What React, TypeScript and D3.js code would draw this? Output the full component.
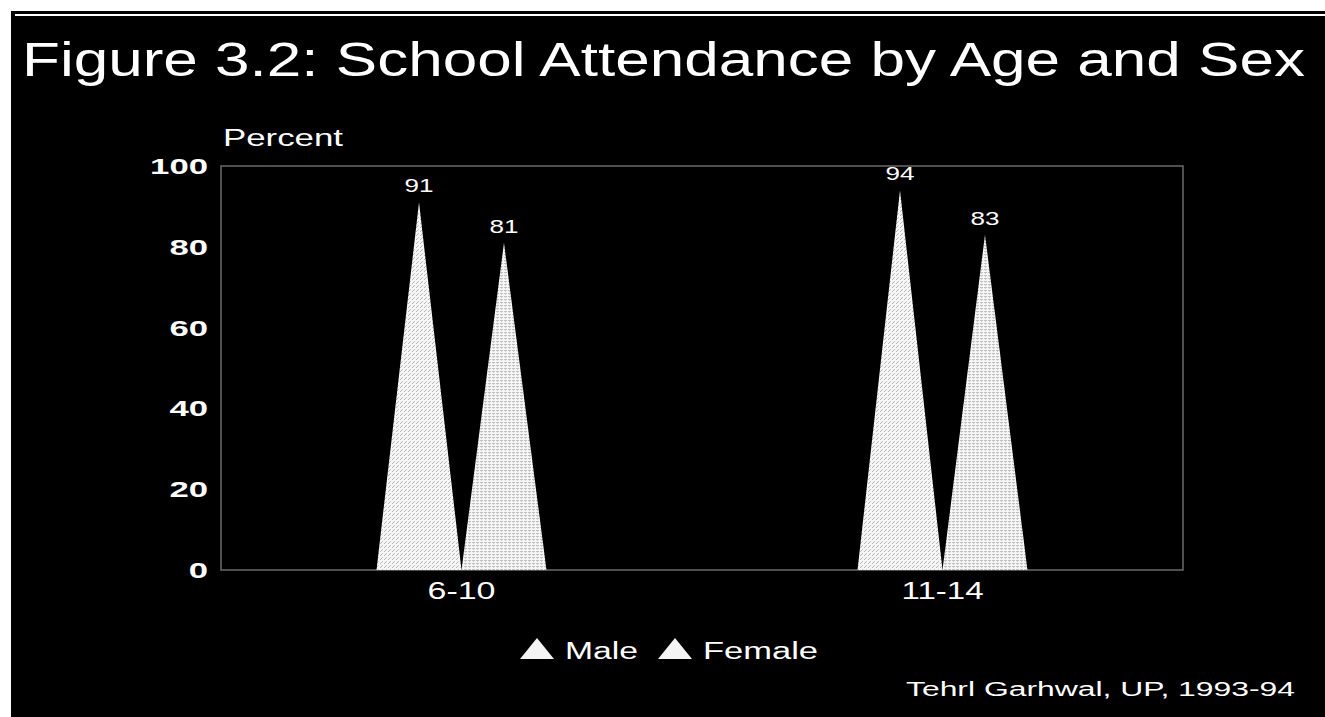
import React from "react";
import * as d3 from "d3";

// Age groups, series and values (percent attending school)
const ageGroups = ["6-10", "11-14"];
const seriesNames = ["Male", "Female"];
const maleValues = [91, 94];
const femaleValues = [81, 83];
const yTicks = [0, 20, 40, 60, 80, 100];

const W = 1325;
const H = 717;
const plot = { left: 221, top: 166, right: 1183, bottom: 570 };
const FONT = "'Liberation Sans', Arial, Helvetica, sans-serif";

export default function App() {
  const x0 = d3
    .scaleBand<string>()
    .domain(ageGroups)
    .range([plot.left, plot.right])
    .paddingInner(0)
    .paddingOuter(0);
  const x1 = d3
    .scaleBand<string>()
    .domain(seriesNames)
    .range([0, x0.bandwidth()])
    .paddingInner(0)
    .paddingOuter(1.83);
  const y = d3.scaleLinear().domain([0, 100]).range([plot.bottom, plot.top]);

  const valuesBySeries: Record<string, number[]> = {
    Male: maleValues,
    Female: femaleValues,
  };
  const fills: Record<string, string> = {
    Male: "url(#hatchMale)",
    Female: "url(#hatchFemale)",
  };

  const triangle = (cat: string, s: string, v: number) => {
    const left = (x0(cat) ?? 0) + (x1(s) ?? 0);
    const bw = x1.bandwidth();
    return d3.line()([
      [left, y(0)],
      [left + bw / 2, y(v)],
      [left + bw, y(0)],
    ]) + "Z";
  };

  const groupLabelWidth: Record<string, number> = { "6-10": 68, "11-14": 82 };

  return (
    <div style={{ position: "absolute", left: 0, top: 0 }}>
      <svg width={W} height={H} style={{ display: "block" }}>
        <defs>
          <pattern id="hatchMale" width={4} height={4} patternUnits="userSpaceOnUse">
            <rect width={4} height={4} fill="#f6f6f6" />
            <rect x={0} y={3} width={1} height={1} fill="#b4b4b4" />
            <rect x={1} y={2} width={1} height={1} fill="#b4b4b4" />
            <rect x={2} y={1} width={1} height={1} fill="#c4c4c4" />
          </pattern>
          <pattern id="hatchFemale" width={4} height={3} patternUnits="userSpaceOnUse">
            <rect width={4} height={3} fill="#f6f6f6" />
            <rect x={0} y={2} width={3} height={1} fill="#c0c0c0" />
            <rect x={1} y={0} width={1} height={1} fill="#d0d0d0" />
          </pattern>
        </defs>

        <rect x={0} y={0} width={W} height={H} fill="#ffffff" />
        <rect x={11} y={11} width={W - 11} height={H - 11} fill="#000000" />
        <rect x={15} y={14} width={W - 15} height={2} fill="#ffffff" />

        <text
          x={22}
          y={76}
          fill="#ffffff"
          fontFamily={FONT}
          fontSize={48}
          textLength={1283}
          lengthAdjust="spacingAndGlyphs"
        >
          Figure 3.2: School Attendance by Age and Sex
        </text>

        <text
          x={223}
          y={146}
          fill="#ffffff"
          fontFamily={FONT}
          fontSize={23}
          textLength={120}
          lengthAdjust="spacingAndGlyphs"
        >
          Percent
        </text>

        {/* plot frame */}
        <rect
          x={plot.left}
          y={plot.top}
          width={plot.right - plot.left}
          height={plot.bottom - plot.top}
          fill="none"
          stroke="#6a6a6a"
          strokeWidth={1.5}
        />

        {/* y axis tick labels */}
        {yTicks.map((t) => (
          <text
            key={t}
            x={208}
            y={y(t) + 8}
            textAnchor="end"
            fill="#ffffff"
            fontFamily={FONT}
            fontWeight="bold"
            fontSize={22}
            textLength={String(t).length * 19.3}
            lengthAdjust="spacingAndGlyphs"
          >
            {t}
          </text>
        ))}

        {/* triangles and value labels */}
        {ageGroups.map((cat, i) =>
          seriesNames.map((s) => {
            const v = valuesBySeries[s][i];
            const cx = (x0(cat) ?? 0) + (x1(s) ?? 0) + x1.bandwidth() / 2;
            return (
              <g key={cat + s}>
                <path d={triangle(cat, s, v)} fill={fills[s]} />
                <text
                  x={cx}
                  y={y(v) - 10}
                  textAnchor="middle"
                  fill="#ffffff"
                  fontFamily={FONT}
                  fontSize={18.5}
                  textLength={29}
                  lengthAdjust="spacingAndGlyphs"
                >
                  {v}
                </text>
              </g>
            );
          })
        )}

        {/* x axis category labels */}
        {ageGroups.map((cat) => (
          <text
            key={cat}
            x={(x0(cat) ?? 0) + x0.bandwidth() / 2}
            y={599}
            textAnchor="middle"
            fill="#ffffff"
            fontFamily={FONT}
            fontSize={23}
            textLength={groupLabelWidth[cat]}
            lengthAdjust="spacingAndGlyphs"
          >
            {cat}
          </text>
        ))}

        {/* legend */}
        {[
          { name: "Male", tx: 520, lx: 565, lw: 73 },
          { name: "Female", tx: 658, lx: 703, lw: 115 },
        ].map((d) => (
          <g key={d.name}>
            <path
              d={`M${d.tx},659L${d.tx + 17},638L${d.tx + 34},659Z`}
              fill="#f4f4f4"
            />
            <text
              x={d.lx}
              y={659}
              fill="#ffffff"
              fontFamily={FONT}
              fontSize={23.5}
              textLength={d.lw}
              lengthAdjust="spacingAndGlyphs"
            >
              {d.name}
            </text>
          </g>
        ))}

        <text
          x={1295}
          y={696}
          textAnchor="end"
          fill="#ffffff"
          fontFamily={FONT}
          fontSize={19.5}
          textLength={389}
          lengthAdjust="spacingAndGlyphs"
        >
          Tehrl Garhwal, UP, 1993-94
        </text>
      </svg>
    </div>
  );
}
